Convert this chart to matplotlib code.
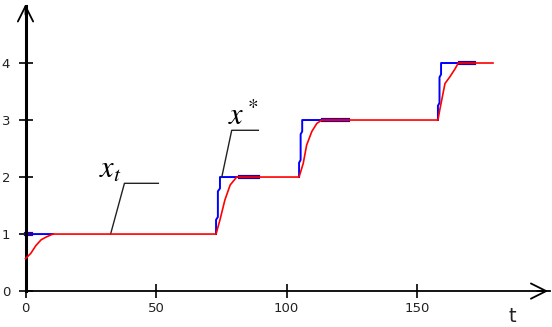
import numpy as np
import matplotlib
matplotlib.use("Agg")
import matplotlib.pyplot as plt

plt.rcParams['mathtext.fontset'] = 'stix'

# x* (blue), NaN breaks the visible pieces
xstar_t = [0, 10.5, np.nan,
           73.0, 73.0, 73.7, 73.7, 74.5, 74.5, 82.0, np.nan,
           104.8, 104.8, 105.4, 105.4, 106.0, 106.0, 114.0, np.nan,
           158.0, 158.0, 158.6, 158.6, 159.2, 159.2, 166.5]
xstar = [1, 1, np.nan,
         1, 1.25, 1.3, 1.75, 1.8, 2, 2, np.nan,
         2, 2.25, 2.3, 2.75, 2.8, 3, 3, np.nan,
         3, 3.25, 3.3, 3.75, 3.8, 4, 4]

# overlap pieces where blue shows under the red line
overlap_t = [0, 2.0, np.nan, 82.2, 89.1, np.nan, 114.0, 123.6, np.nan, 166.5, 172.0]
overlap_v = [1, 1, np.nan, 2, 2, np.nan, 3, 3, np.nan, 4, 4]

# x_t (red)
xt_t = [0, 2, 4, 6, 8, 10.5, 73.0, 74.5, 76.4, 78.4, 80.9,
        104.8, 106.4, 107.7, 109.7, 111.6, 113.5,
        158.0, 158.8, 160.7, 162.6, 164.6, 165.8, 179.1]
xt = [0.57, 0.66, 0.8, 0.9, 0.95, 1.0, 1.0, 1.25, 1.6, 1.86, 2.0,
      2.0, 2.24, 2.56, 2.8, 2.94, 3.0,
      3.0, 3.2, 3.64, 3.76, 3.9, 4.0, 4.0]

xticks = [0, 50, 100, 150]
yticks = [0, 1, 2, 3, 4]

fig = plt.figure(figsize=(5.52, 3.27), dpi=100)
ax = fig.add_axes([0, 0, 1, 1])
ax.set_xlim(-9.77, 201.7)
ax.set_ylim(-0.63, 5.105)

ax.plot(xstar_t, xstar, color='#0000ff', lw=1.4, zorder=2)
ax.plot(overlap_t, overlap_v, color='#2a00a0', lw=3.0, zorder=2)
ax.plot(xt_t, xt, color='#ff0000', lw=1.2, zorder=3)

# axes through the origin with open arrow heads
for s in ['top', 'right']:
    ax.spines[s].set_visible(False)
ax.spines['left'].set_position(('data', 0))
ax.spines['bottom'].set_position(('data', 0))
ax.spines['left'].set_linewidth(2.2)
ax.spines['bottom'].set_linewidth(1.3)
ax.spines['left'].set_bounds(0, 5.0)
ax.spines['bottom'].set_bounds(0, 201.0)
ax.set_xticks(xticks)
ax.set_yticks(yticks)
ax.tick_params(direction='inout', length=10, width=1.2, labelsize=9.5,
               labelcolor='#222222')
ax.tick_params(axis='y', pad=6)
ax.tick_params(axis='x', pad=3)

arrow = dict(arrowstyle='->,head_length=1.1,head_width=0.55', lw=1.3, color='black')
ax.annotate('', xy=(201.3, 0), xytext=(195, 0), arrowprops=arrow)
ax.annotate('', xy=(0, 5.08), xytext=(0, 4.8), arrowprops=arrow)

ax.text(186.4, -0.44, 't', fontsize=14, ha='center', va='center', color='#222222')

# leader lines and labels
ax.plot([32.6, 37.9, 50.9], [1.0, 1.89, 1.89], color='#222222', lw=1.0)
ax.text(28.0, 1.98, r'$x_t$', fontsize=22, ha='left', va='baseline')
ax.plot([75.2, 79.0, 89.2], [2.0, 2.82, 2.82], color='#222222', lw=1.0)
ax.text(77.5, 2.91, r'$x^*$', fontsize=22, ha='left', va='baseline')

fig.savefig('out.png', dpi=100)
